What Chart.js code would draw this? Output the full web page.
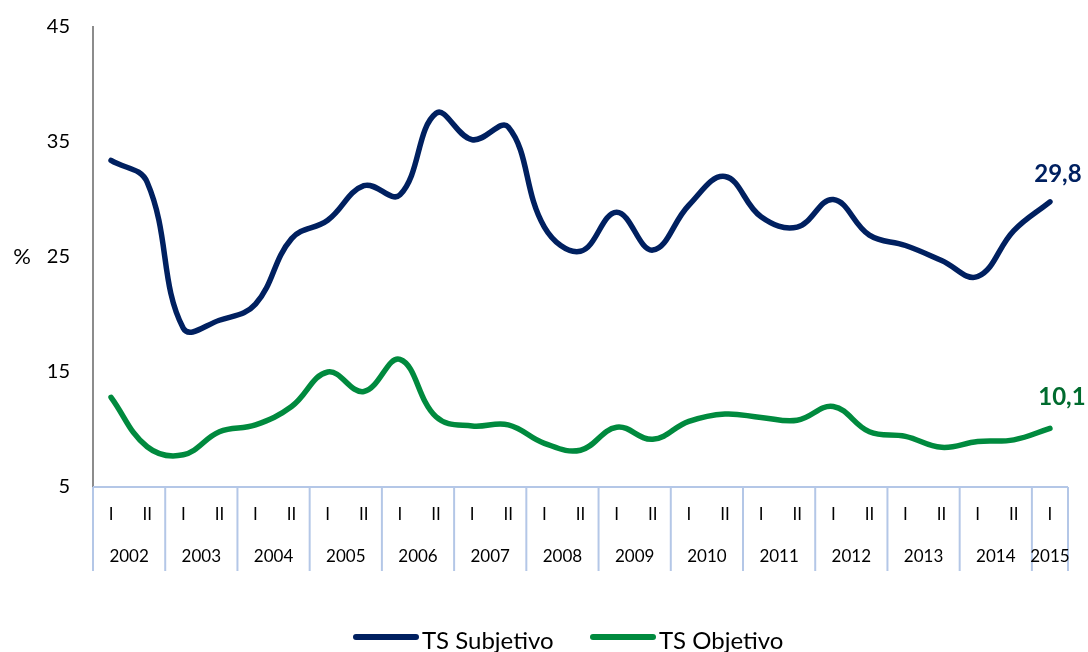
<!DOCTYPE html>
<html><head><meta charset="utf-8">
<script src="https://cdn.jsdelivr.net/npm/chart.js@4.4.0/dist/chart.umd.min.js"></script>
<style>html,body{margin:0;padding:0;background:#fff}#wrap{width:1088px;height:652px;position:relative}</style>
</head><body><div id="wrap"><canvas id="c" width="1088" height="652"></canvas></div>
<script>
const periodYears = ['2002','2002','2003','2003','2004','2004','2005','2005','2006','2006','2007','2007','2008','2008','2009','2009','2010','2010','2011','2011','2012','2012','2013','2013','2014','2014','2015'];
const periodHalves = ['I','II','I','II','I','II','I','II','I','II','I','II','I','II','I','II','I','II','I','II','I','II','I','II','I','II','I'];
const subjetivo = [33.4, 31.5, 18.8, 19.5, 20.9, 26.6, 28.2, 31.2, 30.4, 37.5, 35.2, 36.3, 27.6, 25.5, 28.9, 25.6, 29.5, 32.0, 28.5, 27.6, 30.0, 26.9, 26.0, 24.7, 23.3, 27.3, 29.8];
const objetivo = [12.8, 8.5, 7.8, 9.8, 10.4, 12.0, 15.0, 13.3, 16.1, 11.1, 10.3, 10.4, 8.8, 8.2, 10.2, 9.15, 10.7, 11.35, 11.05, 10.8, 12.0, 9.8, 9.4, 8.45, 8.95, 9.1, 10.1];
const yTicks = [5, 15, 25, 35, 45];
const seriesNames = ['TS Subjetivo', 'TS Objetivo'];
const lastLabels = ['29,8', '10,1'];

const NAVY = '#002060', GREEN = '#008a3e', GREEN_DARK = '#006b2e', BOX = '#b4c7e7';
Chart.defaults.font.family = 'Lato';

const categoryPlugin = {
  id: 'categoryBoxes',
  afterDraw(chart) {
    const ctx = chart.ctx, xs = chart.scales.x, area = chart.chartArea;
    const step = xs.getPixelForValue(1) - xs.getPixelForValue(0);
    const top = area.bottom, bottom = top + 84;
    ctx.save();
    ctx.strokeStyle = BOX; ctx.lineWidth = 2;
    const firstL = xs.getPixelForValue(0) - step / 2;
    const lastR = xs.getPixelForValue(periodYears.length - 1) + step / 2;
    ctx.beginPath(); ctx.moveTo(firstL, top); ctx.lineTo(lastR, top); ctx.stroke();
    ctx.font = '17px Lato'; ctx.fillStyle = '#000'; ctx.textAlign = 'center'; ctx.textBaseline = 'middle';
    let i = 0;
    while (i < periodYears.length) {
      let j = i;
      while (j + 1 < periodYears.length && periodYears[j + 1] === periodYears[i]) j++;
      const l = xs.getPixelForValue(i) - step / 2, r = xs.getPixelForValue(j) + step / 2;
      ctx.beginPath(); ctx.moveTo(l, top); ctx.lineTo(l, bottom); ctx.stroke();
      if (j === periodYears.length - 1) { ctx.beginPath(); ctx.moveTo(r, top); ctx.lineTo(r, bottom); ctx.stroke(); }
      ctx.fillText(periodYears[i], (l + r) / 2, top + 70);
      i = j + 1;
    }
    // y-axis unit
    ctx.font = '22px Lato'; ctx.fillText('%', 22, chart.scales.y.getPixelForValue(25));
    // end labels
    ctx.font = 'bold 24px Lato';
    const m0 = chart.getDatasetMeta(0).data, m1 = chart.getDatasetMeta(1).data;
    const p0 = m0[m0.length - 1], p1 = m1[m1.length - 1];
    ctx.fillStyle = NAVY; ctx.fillText(lastLabels[0], p0.x + 8, p0.y - 28);
    ctx.fillStyle = GREEN_DARK; ctx.fillText(lastLabels[1], p1.x + 12, p1.y - 31);
    // legend
    const items = [{x: 353, c: NAVY, t: seriesNames[0]}, {x: 590, c: GREEN, t: seriesNames[1]}];
    ctx.font = '24px Lato'; ctx.textAlign = 'left';
    items.forEach(it => {
      ctx.strokeStyle = it.c; ctx.lineWidth = 6; ctx.lineCap = 'round';
      ctx.beginPath(); ctx.moveTo(it.x + 3, 637); ctx.lineTo(it.x + 63, 637); ctx.stroke();
      ctx.fillStyle = '#000'; ctx.fillText(it.t, it.x + 69, 641);
    });
    ctx.restore();
  }
};

new Chart(document.getElementById('c'), {
  type: 'line',
  data: {
    labels: periodHalves,
    datasets: [
      {label: seriesNames[0], data: subjetivo, borderColor: NAVY, backgroundColor: NAVY, borderWidth: 5.5, pointRadius: 0, tension: 0.4, borderCapStyle: 'round'},
      {label: seriesNames[1], data: objetivo, borderColor: GREEN, backgroundColor: GREEN, borderWidth: 5.5, pointRadius: 0, tension: 0.4, borderCapStyle: 'round'}
    ]
  },
  options: {
    responsive: false, animation: false,
    layout: {padding: {top: 27, right: 20, left: 0, bottom: 0}},
    plugins: {legend: {display: false}, tooltip: {enabled: false}},
    scales: {
      x: {
        offset: true,
        grid: {display: false, drawTicks: false},
        border: {display: false},
        ticks: {autoSkip: false, maxRotation: 0, font: {size: 17}, color: '#000', padding: 17},
        afterFit(s) { s.height = 165; }
      },
      y: {
        min: 5, max: 45,
        afterBuildTicks(s) { s.ticks = yTicks.map(v => ({value: v})); },
        grid: {display: false, drawTicks: true, tickLength: 20},
        border: {display: true, color: '#8c8c8c', width: 2},
        ticks: {font: {size: 20}, color: '#000', padding: 3},
        afterFit(s) { s.width = 93; }
      }
    }
  },
  plugins: [categoryPlugin]
});
</script></body></html>
